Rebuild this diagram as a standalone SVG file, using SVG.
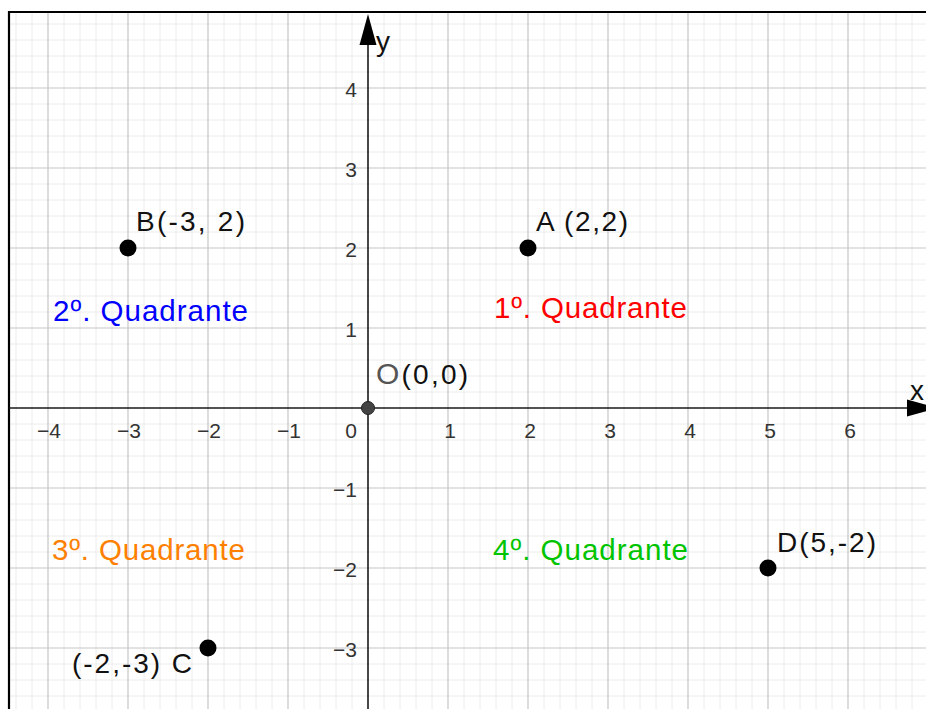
<svg xmlns="http://www.w3.org/2000/svg" width="926" height="709" viewBox="0 0 926 709">
<style>
.minor{stroke:#ececec;stroke-width:1;fill:none}
.major{stroke:#c6c6c6;stroke-width:1.2;fill:none}
.axis{stroke:#1a1a1a;stroke-width:1.6;fill:none}
.tick{font-family:"Liberation Sans",Arial,sans-serif;font-size:21px;fill:#333}
.lbl{font-family:"Liberation Sans",Arial,sans-serif;font-size:28px;fill:#111}
.quad{font-family:"Liberation Sans",Arial,sans-serif;font-size:29.5px}
.pt{fill:#000}
</style>
<rect x="0" y="0" width="926" height="709" fill="#fff"/>
<g id="grid">
<path class="minor" d="M16 12V709M32 12V709M64 12V709M80 12V709M96 12V709M112 12V709M144 12V709M160 12V709M176 12V709M192 12V709M224 12V709M240 12V709M256 12V709M272 12V709M304 12V709M320 12V709M336 12V709M352 12V709M384 12V709M400 12V709M416 12V709M432 12V709M464 12V709M480 12V709M496 12V709M512 12V709M544 12V709M560 12V709M576 12V709M592 12V709M624 12V709M640 12V709M656 12V709M672 12V709M704 12V709M720 12V709M736 12V709M752 12V709M784 12V709M800 12V709M816 12V709M832 12V709M864 12V709M880 12V709M896 12V709M912 12V709"/>
<path class="minor" d="M9 24H926M9 40H926M9 56H926M9 72H926M9 104H926M9 120H926M9 136H926M9 152H926M9 184H926M9 200H926M9 216H926M9 232H926M9 264H926M9 280H926M9 296H926M9 312H926M9 344H926M9 360H926M9 376H926M9 392H926M9 424H926M9 440H926M9 456H926M9 472H926M9 504H926M9 520H926M9 536H926M9 552H926M9 584H926M9 600H926M9 616H926M9 632H926M9 664H926M9 680H926M9 696H926"/>
<path class="major" d="M48 12V709M128 12V709M208 12V709M288 12V709M448 12V709M528 12V709M608 12V709M688 12V709M768 12V709M848 12V709"/>
<path class="major" d="M9 88H926M9 168H926M9 248H926M9 328H926M9 488H926M9 568H926M9 648H926"/>
</g>
<g id="frame">
<path d="M9 709V12H926" fill="none" stroke="#000" stroke-width="2.2"/>
</g>
<g id="axes">
<path class="axis" d="M9 408H912"/>
<path class="axis" d="M368 709V42"/>
<polygon points="907,399.5 938,408 907,416.5" fill="#000"/>
<polygon points="359.5,45 368,14 376.5,45" fill="#000"/>
<text class="lbl" x="910" y="400" font-size="28">x</text>
<text class="lbl" x="376" y="51" font-size="28">y</text>
</g>
<g id="ticks">
<text class="tick" x="61" y="438" text-anchor="end">−4</text>
<text class="tick" x="141" y="438" text-anchor="end">−3</text>
<text class="tick" x="221" y="438" text-anchor="end">−2</text>
<text class="tick" x="301" y="438" text-anchor="end">−1</text>
<text class="tick" x="450" y="438" text-anchor="middle">1</text>
<text class="tick" x="530" y="438" text-anchor="middle">2</text>
<text class="tick" x="610" y="438" text-anchor="middle">3</text>
<text class="tick" x="690" y="438" text-anchor="middle">4</text>
<text class="tick" x="770" y="438" text-anchor="middle">5</text>
<text class="tick" x="850" y="438" text-anchor="middle">6</text>
<text class="tick" x="357" y="438" text-anchor="end">0</text>
<text class="tick" x="357" y="97" text-anchor="end">4</text>
<text class="tick" x="357" y="177" text-anchor="end">3</text>
<text class="tick" x="357" y="257" text-anchor="end">2</text>
<text class="tick" x="357" y="337" text-anchor="end">1</text>
<text class="tick" x="357" y="497" text-anchor="end">−1</text>
<text class="tick" x="357" y="577" text-anchor="end">−2</text>
<text class="tick" x="357" y="657" text-anchor="end">−3</text>
</g>
<g id="quadrants">
<text class="quad" x="494" y="318" fill="#ff0000" textLength="193" lengthAdjust="spacing">1º. Quadrante</text>
<text class="quad" x="53" y="321" fill="#0000ff" textLength="195" lengthAdjust="spacing">2º. Quadrante</text>
<text class="quad" x="52" y="560" fill="#ff7f00" textLength="193" lengthAdjust="spacing">3º. Quadrante</text>
<text class="quad" x="493" y="560" fill="#00c400" textLength="195" lengthAdjust="spacing">4º. Quadrante</text>
</g>
<g id="pointA">
<circle class="pt" cx="528" cy="248" r="8.5"/>
<text class="lbl" x="536" y="231" textLength="92" lengthAdjust="spacing">A (2,2)</text>
</g>
<g id="pointB">
<circle class="pt" cx="128" cy="248" r="8.5"/>
<text class="lbl" x="136" y="231" textLength="109" lengthAdjust="spacing">B(-3, 2)</text>
</g>
<g id="pointC">
<circle class="pt" cx="208" cy="648" r="8.5"/>
<text class="lbl" x="72" y="673" textLength="120" lengthAdjust="spacing">(-2,-3) C</text>
</g>
<g id="pointD">
<circle class="pt" cx="768" cy="568" r="8.5"/>
<text class="lbl" x="777" y="552" textLength="99" lengthAdjust="spacing">D(5,-2)</text>
</g>
<g id="pointO">
<circle cx="368" cy="408" r="6.5" fill="#444" stroke="#222" stroke-width="1"/>
<text class="lbl" x="376" y="384" textLength="92" lengthAdjust="spacing"><tspan fill="#555" font-size="30">O</tspan>(0,0)</text>
</g>
</svg>
